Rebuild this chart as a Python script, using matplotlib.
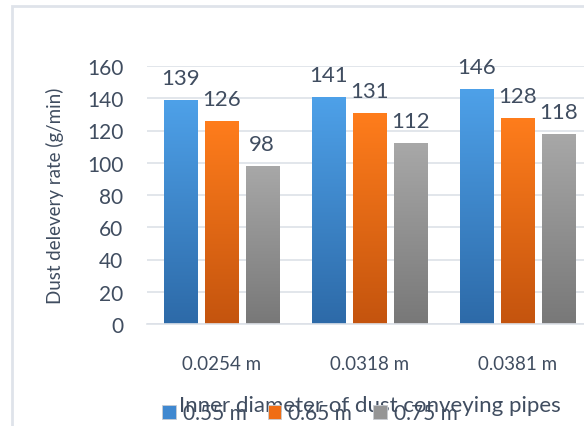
import numpy as np
import matplotlib
matplotlib.use("Agg")
import matplotlib.pyplot as plt
from matplotlib.colors import LinearSegmentedColormap
from matplotlib.patches import Rectangle

categories = ['0.0254 m', '0.0318 m', '0.0381 m']
series_names = ['0.55 m', '0.65 m', '0.75 m']
vals_055 = [139, 141, 146]
vals_065 = [126, 131, 128]
vals_075 = [98, 112, 118]
series_values = [vals_055, vals_065, vals_075]

# (top, bottom) gradient colours for each series
gradients = [('#4ea1e9', '#2d6aa8'), ('#ff7d1c', '#c4540e'), ('#a8a8a8', '#787878')]
solid = ['#3f88d0', '#f06d14', '#959595']

text_color = '#404d60'
plt.rcParams['font.family'] = ['Lato', 'DejaVu Sans']

fig = plt.figure(figsize=(5.84, 4.27), dpi=100)
fig.patch.set_facecolor('white')

# light chart-area border
fig.patches.append(Rectangle((12 / 584, -0.1), 1.2, 1 - 7 / 427 + 0.1,
                             transform=fig.transFigure, fill=False,
                             edgecolor='#dfe3ea', linewidth=2))

ax = fig.add_axes([147 / 584, 1 - 325 / 427, 445 / 584, 258 / 427])

x = np.arange(len(categories))
width = 0.223
step = 0.277
containers = []
for i, (name, vals) in enumerate(zip(series_names, series_values)):
    bars = ax.bar(x + (i - 1) * step, vals, width, color=solid[i], label=name,
                  zorder=2, edgecolor='#c8ccd2', linewidth=0.6)
    containers.append(bars)

grad = np.linspace(0, 1, 256).reshape(-1, 1)
for bars, (ctop, cbot) in zip(containers, gradients):
    cmap = LinearSegmentedColormap.from_list('g', [cbot, ctop])
    for rect in bars:
        x0, y0 = rect.get_xy()
        w, h = rect.get_width(), rect.get_height()
        im = ax.imshow(grad, extent=[x0, x0 + w, y0, y0 + h], origin='lower',
                       cmap=cmap, aspect='auto', zorder=2.5)
        im.set_clip_path(rect)
        ax.annotate(f'{int(h)}', (x0 + w / 2, h), xytext=(0, 11.5),
                    textcoords='offset points', ha='center', va='baseline',
                    fontsize=16, color=text_color)

ax.set_xlim(-0.5, 2.5)
ax.set_ylim(0, 160)
ax.set_yticks(range(0, 161, 20))
ax.set_xticks(x)
ax.set_xticklabels(categories)
ax.grid(axis='y', color='#dde1e8', linewidth=1.2, zorder=0)
ax.set_axisbelow(True)
for s in ['top', 'right', 'left']:
    ax.spines[s].set_visible(False)
ax.spines['bottom'].set_color('#dde1e8')
ax.spines['bottom'].set_linewidth(1.2)
ax.tick_params(axis='both', length=0, colors=text_color)
ax.tick_params(axis='y', labelsize=15, pad=17)
ax.tick_params(axis='x', labelsize=13.5, pad=22)

fig.text(55 / 584, 1 - 196 / 427, 'Dust delevery rate (g/min)', rotation=90,
         ha='center', va='center', fontsize=13.5, color=text_color)

fig.text(370 / 584, 1 - 406 / 427, 'Inner diameter of dust conveying pipes',
         ha='center', va='center', fontsize=16, color=text_color)

fig.legend(loc='center', bbox_to_anchor=(310 / 584, 1 - 414 / 427), ncol=3,
           frameon=False, fontsize=15, handlelength=0.65, handleheight=0.65,
           handletextpad=0.35, columnspacing=1.0, labelcolor=text_color,
           borderpad=0, borderaxespad=0)

fig.savefig('out.png', dpi=100)
